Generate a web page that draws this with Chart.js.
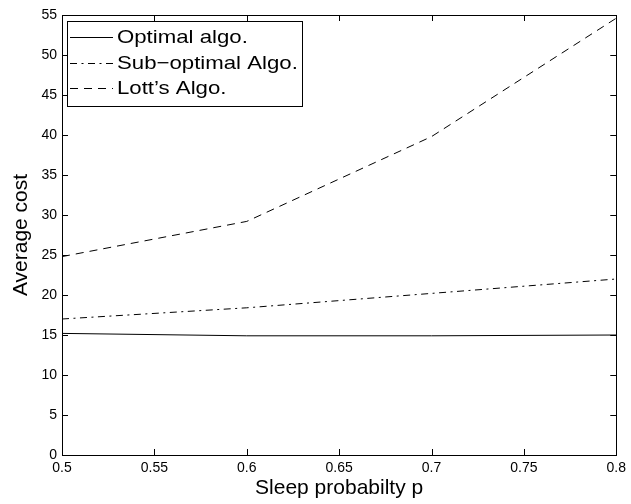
<!DOCTYPE html>
<html>
<head>
<meta charset="utf-8">
<script src="https://cdn.jsdelivr.net/npm/chart.js@4"></script>
<style>
html,body{margin:0;padding:0;background:#fff;}
#wrap{width:631px;height:504px;position:relative;}
</style>
</head>
<body>
<div id="wrap"><canvas id="c" width="631" height="504"></canvas></div>
<script>
const xValues = [0.5, 0.6, 0.7, 0.8];
const optimal = [15.2, 14.9, 14.9, 15.0];
const subOptimal = [17.0, 18.4, 20.2, 22.0];
const lott = [24.8, 29.2, 39.8, 54.6];
const seriesLabels = ['Optimal algo.', 'Sub\u2212optimal Algo.', 'Lott\u2019s Algo.'];
const xTicks = [0.5, 0.55, 0.6, 0.65, 0.7, 0.75, 0.8];
const yTicks = [0, 5, 10, 15, 20, 25, 30, 35, 40, 45, 50, 55];
const xTitle = 'Sleep probabilty p';
const yTitle = 'Average cost';

const FONT = 'Liberation Sans, Arial, Helvetica, sans-serif';

function pts(arr){ return xValues.map((x,i)=>({x:x,y:arr[i]})); }

const frameTicks = {
  id:'frameTicks',
  afterDatasetsDraw(chart){
    const {ctx, chartArea:a, scales:{x, y}} = chart;
    ctx.save();
    ctx.strokeStyle = '#000';
    ctx.lineWidth = 1;
    const L = 6;
    ctx.beginPath();
    xTicks.forEach(v=>{
      const px = Math.round(x.getPixelForValue(v))+0.5;
      ctx.moveTo(px, a.bottom); ctx.lineTo(px, a.bottom-L);
      ctx.moveTo(px, a.top); ctx.lineTo(px, a.top+L);
    });
    yTicks.forEach(v=>{
      const py = Math.round(y.getPixelForValue(v))+0.5;
      ctx.moveTo(a.left, py); ctx.lineTo(a.left+L, py);
      ctx.moveTo(a.right, py); ctx.lineTo(a.right-L, py);
    });
    ctx.stroke();
    ctx.strokeRect(Math.round(a.left)+0.5, Math.round(a.top)+0.5, Math.round(a.right-a.left), Math.round(a.bottom-a.top));
    // legend
    const bx = 67.5, by = 21.5, bw = 235, bh = 85;
    ctx.fillStyle = '#fff';
    ctx.fillRect(bx, by, bw, bh);
    ctx.strokeRect(bx, by, bw, bh);
    ctx.font = '18.5px ' + FONT;
    ctx.textBaseline = 'middle';
    ctx.fillStyle = '#000';
    chart.data.datasets.forEach((ds,i)=>{
      const ry = Math.round(37 + i*25.5);
      ctx.beginPath();
      ctx.setLineDash(ds.borderDash || []);
      ctx.moveTo(70, ry+0.5); ctx.lineTo(113, ry+0.5);
      ctx.stroke();
      ctx.setLineDash([]);
      ctx.save();
      ctx.translate(117, ry+1);
      ctx.scale(1.2, 1);
      ctx.fillText(ds.label, 0, 0);
      ctx.restore();
    });
    ctx.restore();
  }
};

new Chart(document.getElementById('c'), {
  type:'line',
  data:{
    datasets:[
      {label:seriesLabels[0], data:pts(optimal), borderColor:'#000', borderWidth:1, pointRadius:0, tension:0},
      {label:seriesLabels[1], data:pts(subOptimal), borderColor:'#000', borderWidth:1, pointRadius:0, tension:0, borderDash:[7,4.5,2,4.5]},
      {label:seriesLabels[2], data:pts(lott), borderColor:'#000', borderWidth:1, pointRadius:0, tension:0, borderDash:[8,6]}
    ]
  },
  options:{
    responsive:false,
    animation:false,
    events:[],
    layout:{padding:{top:15, right:12, left:0, bottom:0}},
    plugins:{legend:{display:false}, tooltip:{enabled:false}},
    scales:{
      x:{
        type:'linear', min:0.5, max:0.8,
        afterBuildTicks(s){ s.ticks = xTicks.map(v=>({value:v})); },
        afterFit(s){ s.height = 49; },
        grid:{display:false, drawTicks:false},
        border:{display:false},
        ticks:{color:'#000', font:{family:FONT, size:14}, padding:5, maxRotation:0, autoSkip:false,
          callback:(v)=>String(v)},
        title:{display:true, text:xTitle, color:'#000', font:{family:FONT, size:21}, padding:{top:0,bottom:3}}
      },
      y:{
        type:'linear', min:0, max:55,
        afterBuildTicks(s){ s.ticks = yTicks.map(v=>({value:v})); },
        afterFit(s){ s.width = 62; },
        grid:{display:false, drawTicks:false},
        border:{display:false},
        ticks:{color:'#000', font:{family:FONT, size:14}, padding:5, autoSkip:false},
        title:{display:true, text:yTitle, color:'#000', font:{family:FONT, size:21}, padding:{top:9,bottom:0}}
      }
    }
  },
  plugins:[frameTicks]
});
</script>
</body>
</html>
